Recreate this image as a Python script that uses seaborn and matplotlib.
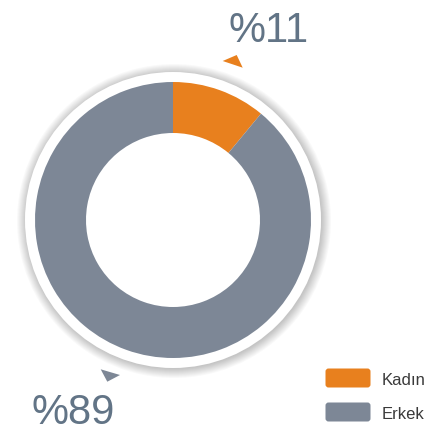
import matplotlib
matplotlib.use("Agg")
import matplotlib.pyplot as plt
from matplotlib.patches import Circle, Polygon, FancyBboxPatch
from matplotlib import font_manager
import seaborn as sns

categories = ["Kadın", "Erkek"]
values = [11, 89]
labels = ["%11", "%89"]
colors = ["#E8801E", "#7D8796"]
text_color = "#627486"

sns.set_theme(style="white")
avail = {f.name for f in font_manager.fontManager.ttflist}
fam = "Liberation Sans Narrow" if "Liberation Sans Narrow" in avail else "Liberation Sans"
plt.rcParams['font.family'] = [fam, 'DejaVu Sans']

W, H = 436, 433
fig = plt.figure(figsize=(W / 100, H / 100), dpi=100)
ax = fig.add_axes([0, 0, 1, 1])

def Y(y):
    return H - y

cx, cy = 173, Y(220)
R_out, R_in = 138, 87

# shadow around white ring
for i in range(10):
    r = 157 - i
    ax.add_patch(Circle((cx + 1, cy - 1), r, color="#000000", alpha=0.022, lw=0, zorder=1))
ax.add_patch(Circle((cx, cy), 148, color="white", lw=0, zorder=2))

wedges, _ = ax.pie(values, colors=colors, startangle=90, counterclock=False,
                   radius=R_out, center=(cx, cy),
                   wedgeprops=dict(width=R_out - R_in, linewidth=0))
for w in wedges:
    w.set_zorder(3)

# markers
ax.add_patch(Polygon([(222.7, Y(61)), (236.7, Y(55)), (242.7, Y(67.7))],
                     closed=True, color=colors[0], lw=0, zorder=4))
ax.add_patch(Polygon([(100.7, Y(369.3)), (120, Y(375)), (107.3, Y(381.7))],
                     closed=True, color=colors[1], lw=0, zorder=4))

# percentage labels
ax.text(228, Y(42), labels[0], fontsize=30, color=text_color, ha="left", va="baseline", zorder=5)
ax.text(31, Y(424), labels[1], fontsize=30, color=text_color, ha="left", va="baseline", zorder=5)

# legend
for i, (cat, col) in enumerate(zip(categories, colors)):
    top = 368 + i * 34
    ax.add_patch(FancyBboxPatch((327, Y(top + 18)), 42, 16,
                                boxstyle="round,pad=1.5,rounding_size=3",
                                color=col, lw=0, zorder=5))
    ax.text(382, Y(top + 17), cat, fontsize=12, color="#3a3a3a", ha="left", va="baseline", zorder=5)

ax.set_xlim(0, W)
ax.set_ylim(0, H)
ax.set_aspect("equal")
ax.axis("off")
fig.savefig("out.png", dpi=100)
